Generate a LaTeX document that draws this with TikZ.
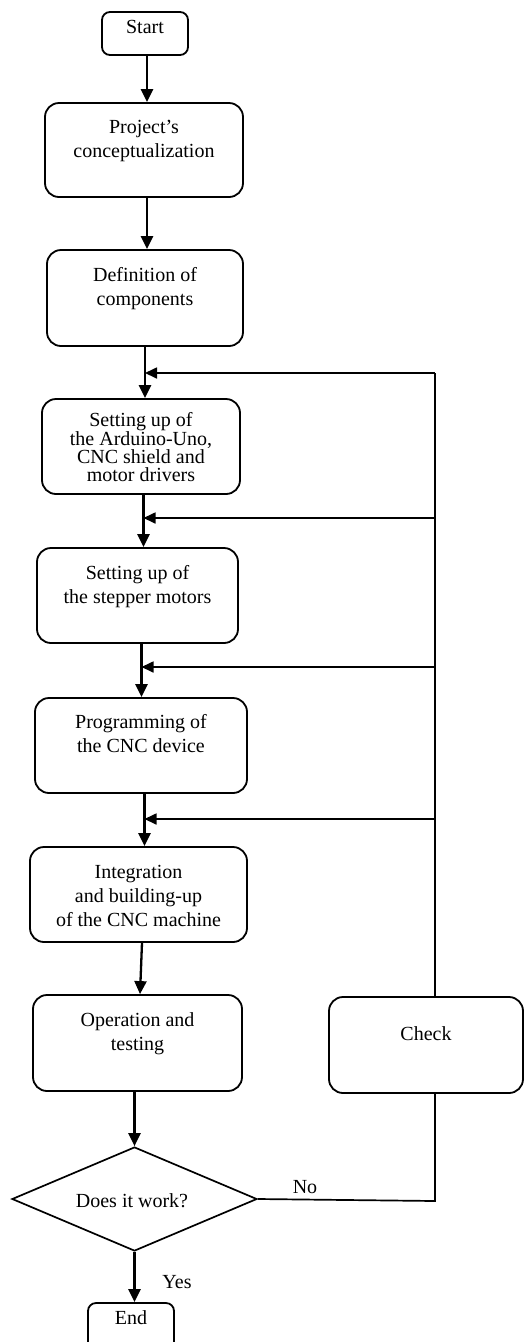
\documentclass[tikz,border=0pt]{standalone}
\usepackage{fontspec}
\setmainfont{Liberation Serif}
\usetikzlibrary{arrows.meta,shapes.geometric}
\begin{document}
\begin{tikzpicture}[x=1pt,y=-1pt,
  box/.style={draw, line width=1.8pt, rounded corners=14pt, inner sep=0pt},
  smallbox/.style={draw, line width=1.8pt, rounded corners=8pt, inner sep=0pt},
  txt/.style={align=center, inner sep=0pt, font=\fontsize{20}{24}\selectfont},
  tighttxt/.style={align=center, inner sep=0pt, font=\fontsize{20}{18.3}\selectfont},
  arr/.style={line width=2.3pt, -{Triangle[length=13pt,width=12pt]}},
  fb/.style={line width=1.7pt, -{Triangle[length=12pt,width=11pt]}},
  fbline/.style={line width=1.7pt}]
\path[use as bounding box, clip] (0,0) rectangle (524,1342);
% boxes
\node[smallbox, minimum width=86pt, minimum height=43pt] (start) at (145,33.5) {};
\node[box, minimum width=198pt, minimum height=94pt] (proj) at (144,150) {};
\node[box, minimum width=196pt, minimum height=96pt] (def) at (145,298) {};
\node[box, minimum width=198pt, minimum height=95pt] (ard) at (141,446.5) {};
\node[box, minimum width=201pt, minimum height=95pt] (step) at (137.5,595.5) {};
\node[box, minimum width=212pt, minimum height=95pt] (prog) at (141,745.5) {};
\node[box, minimum width=217pt, minimum height=95pt] (integ) at (138.5,894.5) {};
\node[box, minimum width=209pt, minimum height=96pt] (oper) at (137.5,1043) {};
\node[box, minimum width=194pt, minimum height=96pt] (check) at (426,1045) {};
\node[diamond, draw, line width=1.7pt, inner sep=0pt, aspect=2.36, minimum width=245pt, minimum height=104pt] (dia) at (134.5,1199) {};
\node[smallbox, minimum width=86pt, minimum height=60pt] (end) at (131,1333) {};
% texts
\node[txt, anchor=base] (tstart) at (145,33) {Start};
\node[txt, anchor=north] (tproj) at (144,120.4) {Project’s\\conceptualization};
\node[txt, anchor=north] (tdef) at (145,267.4) {Definition of\\components};
\node[tighttxt, anchor=north] (tard) at (141,412.6) {Setting up of\\the Arduino-Uno,\\CNC shield and\\motor drivers};
\node[txt, anchor=north] (tstep) at (137.5,565.4) {Setting up of\\the stepper motors};
\node[txt, anchor=north] (tprog) at (141,714.2) {Programming of\\the CNC device};
\node[txt, anchor=north] (tinteg) at (138.5,864.6) {Integration\\and building-up\\of the CNC machine};
\node[txt, anchor=north] (toper) at (137.5,1012.4) {Operation and\\testing};
\node[txt, anchor=base] (tcheck) at (426,1040) {Check};
\node[txt, anchor=base] (tdia) at (132,1207) {Does it work?};
\node[txt, anchor=base] (tend) at (131,1324) {End};
\node[txt, anchor=base] (no) at (305,1193) {No};
\node[txt, anchor=base] (yes) at (177,1288) {Yes};
% coordinates
\coordinate (c1) at (147,0);
\coordinate (j1) at (145,373);
\coordinate (j2) at (143.5,518);
\coordinate (j3) at (141.5,667);
\coordinate (j4) at (144.5,819);
\coordinate (c5) at (142,0);
\coordinate (c6) at (140,0);
\coordinate (fbtop) at (435,373);
\coordinate (nocorner) at (435,1201);
% main arrows
\draw[arr] (start.south -| c1) -- (proj.north -| c1);
\draw[arr] (proj.south -| c1) -- (def.north -| c1);
\draw[arr] (def.south -| j1) -- (ard.north -| j1);
\draw[arr] (ard.south -| j2) -- (step.north -| j2);
\draw[arr] (step.south -| j3) -- (prog.north -| j3);
\draw[arr] (prog.south -| j4) -- (integ.north -| j4);
\draw[arr] (integ.south -| c5) -- (oper.north -| c6);
\draw[arr] (oper.south -| dia.north) -- (dia.north);
\draw[arr] (dia.south) -- (end.north -| dia.south);
% feedback
\draw[fbline] (check.north -| fbtop) -- (fbtop);
\draw[fb] (fbtop) -- (j1);
\draw[fb] (j2 -| fbtop) -- (j2);
\draw[fb] (j3 -| fbtop) -- (j3);
\draw[fb] (j4 -| fbtop) -- (j4);
\draw[fbline] (check.south -| fbtop) -- (nocorner) -- (dia.east);
\end{tikzpicture}
\end{document}
